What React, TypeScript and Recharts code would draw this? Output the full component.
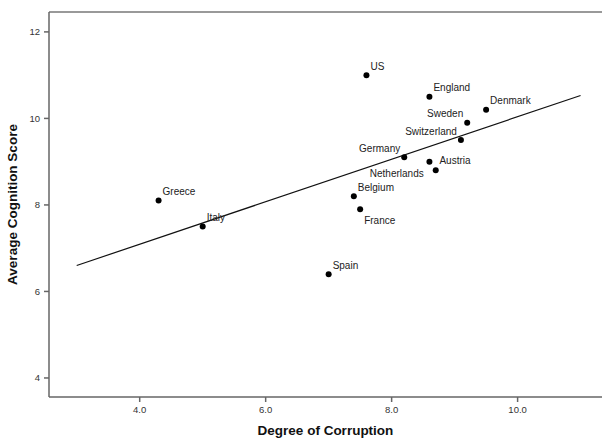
import { ReferenceLine, Scatter, ScatterChart, XAxis, YAxis } from "recharts";

// countries and readings taken off the original scatter plot
const countries = ["Greece", "Italy", "Belgium", "France", "Spain", "US", "England", "Denmark", "Sweden", "Switzerland", "Germany", "Austria", "Netherlands"];
const corruption = [4.3, 5.0, 7.4, 7.5, 7.0, 7.6, 8.6, 9.5, 9.2, 9.1, 8.2, 8.6, 8.7];
const cognition = [8.1, 7.5, 8.2, 7.9, 6.4, 11.0, 10.5, 10.2, 9.9, 9.5, 9.1, 9.0, 8.8];

// fit line end points as drawn
const fitX = [3.0, 11.0];
const fitY = [6.6, 10.53];

const xTicks = [4, 6, 8, 10];
const yTicks = [4, 6, 8, 10, 12];
const X_DOMAIN: [number, number] = [2.56, 11.34];
const Y_DOMAIN: [number, number] = [3.56, 12.46];

// where each label sits relative to its dot
const labelPos: Record<string, string> = {
    Sweden: "tl",
    Switzerland: "tl",
    Germany: "tl",
    France: "br",
    Austria: "r",
    Netherlands: "l",
};

const points = countries.map((name, i) => ({ name, x: corruption[i], y: cognition[i] }));
const fitData = fitX.map((x, i) => ({ x, y: fitY[i] }));

const FONT = "'Liberation Sans', Arial, sans-serif";

function PointShape(props: any) {
    const { cx, cy, payload } = props;
    const pos = labelPos[payload.name] || "tr";
    let tx = cx + 4, ty = cy - 9, anchor: "start" | "end" = "start";
    if (pos === "tl") { tx = cx - 4; anchor = "end"; }
    if (pos === "br") { ty = cy + 11; }
    if (pos === "r") { tx = cx + 10; ty = cy - 1; }
    if (pos === "l") { tx = cx - 12; ty = cy + 3; anchor = "end"; }
    return (
        <g>
            <circle cx={cx} cy={cy} r={3} fill="#000" />
            <text x={tx} y={ty} dy="0.35em" textAnchor={anchor} fontSize={10} fontFamily={FONT} fill="#222">
                {payload.name}
            </text>
        </g>
    );
}

export default function App() {
    return (
        <div style={{ position: "absolute", left: 0, top: 0, width: 603, height: 438, background: "#fff" }}>
            <ScatterChart width={603} height={438} margin={{ top: 12, right: 1, bottom: 0, left: 0 }}>
                <XAxis
                    type="number"
                    dataKey="x"
                    domain={X_DOMAIN}
                    ticks={xTicks}
                    tickFormatter={(v) => v.toFixed(1)}
                    height={41}
                    allowDataOverflow
                    stroke="#666"
                    strokeWidth={1.5}
                    tickSize={5}
                    tickMargin={4}
                    tick={{ fontSize: 9.5, fontFamily: FONT, fill: "#333" }}
                    label={{ value: "Degree of Corruption", position: "insideBottom", offset: 3, style: { fontSize: 13.5, fontWeight: "bold", fontFamily: FONT, fill: "#111" } }}
                />
                <YAxis
                    type="number"
                    dataKey="y"
                    domain={Y_DOMAIN}
                    ticks={yTicks}
                    width={49}
                    allowDataOverflow
                    stroke="#666"
                    strokeWidth={1.5}
                    tickSize={5}
                    tickMargin={4}
                    tick={{ fontSize: 9.5, fontFamily: FONT, fill: "#333" }}
                    label={{ value: "Average Cognition Score", angle: -90, position: "insideLeft", offset: 12, style: { textAnchor: "middle", fontSize: 13.5, fontWeight: "bold", fontFamily: FONT, fill: "#111" } }}
                />
                <ReferenceLine y={Y_DOMAIN[1]} stroke="#777" strokeWidth={1.5} ifOverflow="visible" />
                <Scatter
                    data={fitData}
                    line={{ stroke: "#111", strokeWidth: 1.2 }}
                    shape={() => <g />}
                    isAnimationActive={false}
                />
                <Scatter data={points} shape={PointShape} isAnimationActive={false} />
            </ScatterChart>
        </div>
    );
}
